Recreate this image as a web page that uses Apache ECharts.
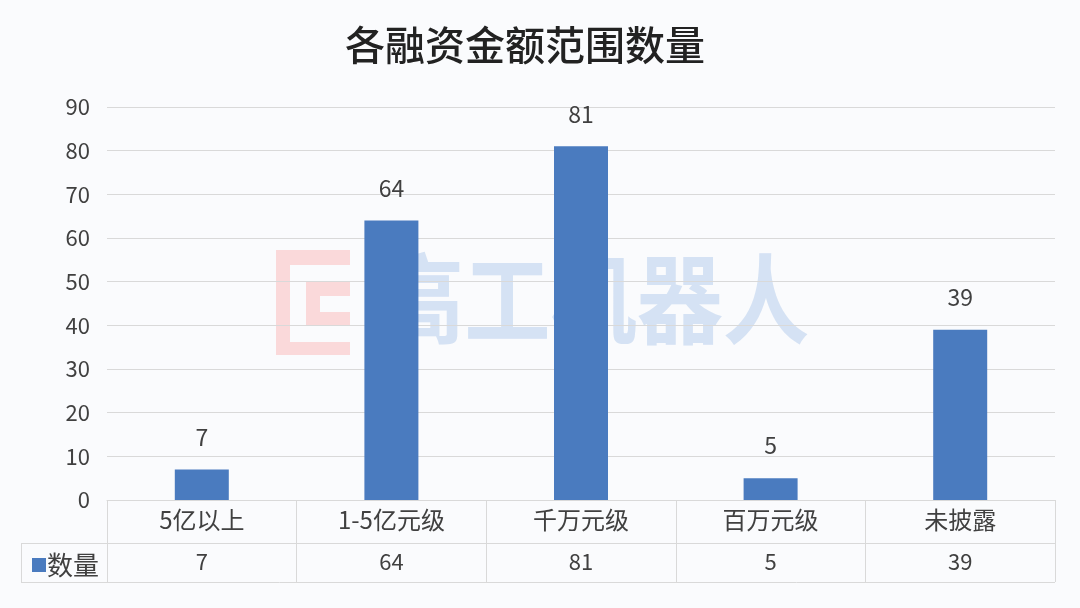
<!DOCTYPE html>
<html>
<head>
<meta charset="utf-8">
<script src="https://cdn.jsdelivr.net/npm/echarts@6/dist/echarts.min.js"></script>
<style>
html,body{margin:0;padding:0;background:#fafbfd;}
#c{width:1080px;height:608px;}
</style>
</head>
<body>
<div id="c"></div>
<script>
var title = '各融资金额范围数量';
var seriesName = '数量';
var categories = ['5亿以上', '1-5亿元级', '千万元级', '百万元级', '未披露'];
var values = [7, 64, 81, 5, 39];
var yTicks = [0, 90, 10];
var watermarkText = '高工机器人';

var chart = echarts.init(document.getElementById('c'));
var FONT = '"Noto Sans CJK SC", "Noto Sans", sans-serif';
var LINE = '#d9d9d9';
var TXT = '#404040';
var BLUE = '#4a7bbf';

var option = {
  backgroundColor: '#fafbfd',
  textStyle: {fontFamily: FONT},
  title: {
    text: title, left: 340, top: 20,
    textStyle: {fontSize: 40, fontWeight: 500, color: '#222', fontFamily: FONT}
  },
  legend: {
    data: [seriesName], left: 27, top: 547,
    itemWidth: 14, itemHeight: 14, itemGap: 4,
    icon: 'rect',
    textStyle: {fontSize: 26, color: TXT, fontFamily: FONT, padding: [0,0,0,-4]}
  },
  grid: {left: 107, right: 25, top: 107, bottom: 108, containLabel: false},
  xAxis: [{
    type: 'category', data: categories, position: 'bottom',
    axisLine: {show: true, lineStyle: {color: LINE, width: 1}},
    axisTick: {show: true, length: 82, lineStyle: {color: LINE}},
    axisLabel: {fontSize: 24, color: TXT, margin: 8, fontFamily: FONT}
  }, {
    type: 'category', data: values.map(String), position: 'bottom', offset: 43,
    axisLine: {show: true, lineStyle: {color: LINE, width: 1}},
    axisTick: {show: false},
    axisLabel: {fontSize: 22, color: TXT, margin: 8, fontFamily: FONT}
  }],
  yAxis: {
    type: 'value', min: yTicks[0], max: yTicks[1], interval: yTicks[2],
    axisLine: {show: false}, axisTick: {show: false},
    splitLine: {lineStyle: {color: LINE, width: 1}},
    axisLabel: {fontSize: 22, color: TXT, margin: 17, fontFamily: FONT}
  },
  series: [{
    name: seriesName, type: 'bar', data: values, barWidth: 54,
    itemStyle: {color: BLUE},
    label: {show: true, position: 'top', distance: 21, fontSize: 23, color: TXT, fontFamily: FONT},
    z: 3
  }],
  graphic: [
    {type: 'line', shape: {x1: 21, y1: 543.5, x2: 107, y2: 543.5}, style: {stroke: LINE, lineWidth: 1}},
    {type: 'line', shape: {x1: 21, y1: 582.5, x2: 1055, y2: 582.5}, style: {stroke: LINE, lineWidth: 1}},
    {type: 'line', shape: {x1: 21.5, y1: 543, x2: 21.5, y2: 583}, style: {stroke: LINE, lineWidth: 1}},
    {type: 'group', z: 1, children: [
      {type: 'rect', shape: {x: 276, y: 250, width: 74, height: 105}, style: {fill: 'rgba(250,190,190,0.55)'}},
      {type: 'rect', shape: {x: 290, y: 265, width: 60, height: 77}, style: {fill: '#fafbfd'}},
      {type: 'rect', shape: {x: 306, y: 282, width: 44, height: 44}, style: {fill: 'rgba(250,190,190,0.55)'}},
      {type: 'rect', shape: {x: 320, y: 296, width: 30, height: 16}, style: {fill: '#fafbfd'}},
      {type: 'text', x: 378, y: 250, scaleX: 0.88, style: {text: watermarkText, font: 'bold 98px "Noto Sans CJK SC"', fill: 'rgba(175,202,235,0.5)', textVerticalAlign: 'top'}}
    ]}
  ]
};
chart.setOption(option);
</script>
</body>
</html>
